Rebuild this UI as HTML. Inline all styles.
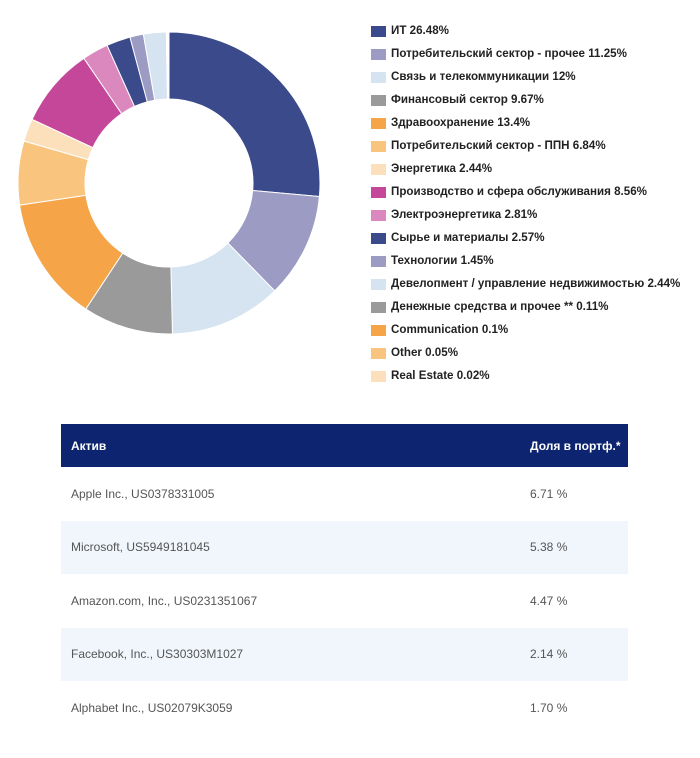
<!DOCTYPE html>
<html><head><meta charset="utf-8"><style>
body{margin:0;background:#fff;width:700px;height:758px;position:relative;font-family:"Liberation Sans",sans-serif;overflow:hidden}
#legend{position:absolute;left:371px;top:24px}
.li{position:absolute;left:0;height:14px;white-space:nowrap;font-size:11.6px;font-weight:bold;color:#222}
.sw{position:absolute;left:0;top:2px;width:15px;height:11px}
.lt{position:absolute;left:20px;top:0;line-height:14px}
table{position:absolute;left:61px;top:424px;width:567px;border-collapse:collapse;font-size:12px;table-layout:fixed}
th{background:#0d2470;color:#fff;height:43px;text-align:left;font-weight:bold;padding:0 0 0 10px;white-space:nowrap}
td{height:53.5px;padding:0 0 0 10px;color:#555;white-space:nowrap}
tr.alt td{background:#f1f6fc}
.c1{width:449px}
.c2{width:98px}
</style></head><body>
<svg id="donut" width="340" height="360" style="position:absolute;left:0;top:0"></svg>
<div id="legend"></div>
<table>
<tr><th class="c1">Актив</th><th class="c2">Доля в портф.*</th></tr>
<tr><td>Apple Inc., US0378331005</td><td>6.71 %</td></tr>
<tr class="alt"><td>Microsoft, US5949181045</td><td>5.38 %</td></tr>
<tr><td>Amazon.com, Inc., US0231351067</td><td>4.47 %</td></tr>
<tr class="alt"><td>Facebook, Inc., US30303M1027</td><td>2.14 %</td></tr>
<tr><td>Alphabet Inc., US02079K3059</td><td>1.70 %</td></tr>
</table>
<script>
const labels=["ИТ","Потребительский сектор - прочее","Связь и телекоммуникации","Финансовый сектор","Здравоохранение","Потребительский сектор - ППН","Энергетика","Производство и сфера обслуживания","Электроэнергетика","Сырье и материалы","Технологии","Девелопмент / управление недвижимостью","Денежные средства и прочее **","Communication","Other","Real Estate"];
const values=[26.48,11.25,12,9.67,13.4,6.84,2.44,8.56,2.81,2.57,1.45,2.44,0.11,0.1,0.05,0.02];
const valueText=["26.48","11.25","12","9.67","13.4","6.84","2.44","8.56","2.81","2.57","1.45","2.44","0.11","0.1","0.05","0.02"];
const colors=["#3a4a8a","#9b9bc4","#d6e3f1","#9a9a9a","#f5a447","#f9c57e","#fbe0bb","#c4479a","#db88bf","#3a4a8a","#9b9bc4","#d6e3f1","#9a9a9a","#f5a447","#f9c57e","#fbe0bb"];
const NS="http://www.w3.org/2000/svg";
const svg=document.getElementById('donut');
const cx=169,cy=183,R=151,r=84;
const total=values.reduce((a,b)=>a+b,0);
let a0=0;
function pt(rad,a){return [cx+rad*Math.sin(a),cy-rad*Math.cos(a)];}
values.forEach((v,i)=>{
  const a1=a0+v/total*2*Math.PI;
  const [x1,y1]=pt(R,a0),[x2,y2]=pt(R,a1),[x3,y3]=pt(r,a1),[x4,y4]=pt(r,a0);
  const lg=(a1-a0)>Math.PI?1:0;
  const p=document.createElementNS(NS,'path');
  p.setAttribute('d',`M${x1},${y1}A${R},${R} 0 ${lg} 1 ${x2},${y2}L${x3},${y3}A${r},${r} 0 ${lg} 0 ${x4},${y4}Z`);
  p.setAttribute('fill',colors[i]);p.setAttribute('stroke','#fff');p.setAttribute('stroke-width','1');
  
  
  svg.appendChild(p);
  a0=a1;
});
const lg=document.getElementById('legend');
labels.forEach((l,i)=>{
  const d=document.createElement('div');d.className='li';d.style.top=(i*23)+'px';
  
  
  d.innerHTML=`<span class="sw" style="background:${colors[i]}"></span><span class="lt">${l} ${valueText[i]}%</span>`;
  lg.appendChild(d);
});
</script>
</body></html>
